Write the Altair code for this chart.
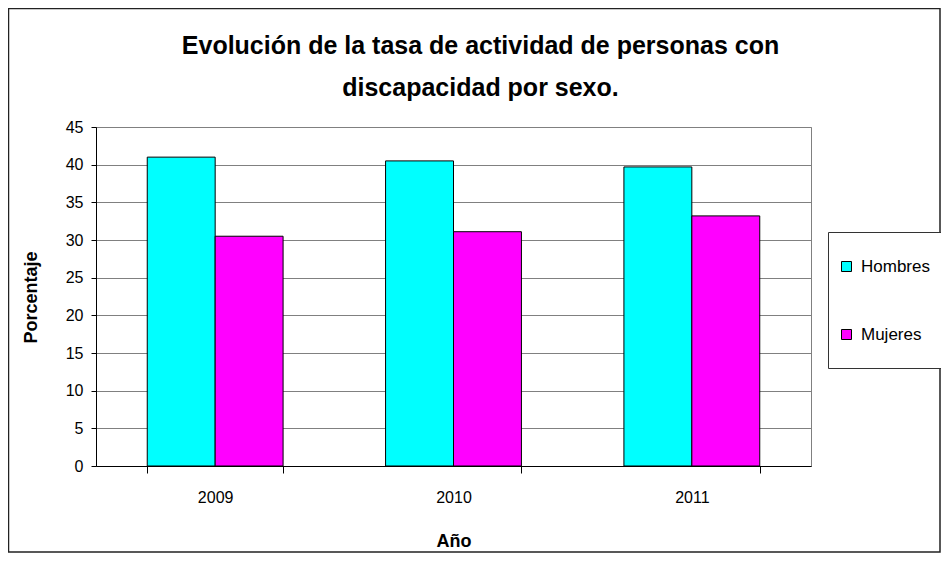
import altair as alt
import pandas as pd

years = ["2009", "2010", "2011"]
hombres = [41.0, 40.5, 39.7]
mujeres = [30.5, 31.1, 33.2]
series = ["Hombres", "Mujeres"]
colors = ["#00FFFF", "#FF00FF"]

rows = []
for i, y in enumerate(years):
    rows.append({"Año": y, "Sexo": "Hombres", "Porcentaje": hombres[i]})
    rows.append({"Año": y, "Sexo": "Mujeres", "Porcentaje": mujeres[i]})
df = pd.DataFrame(rows)

FONT = "Liberation Sans"
W, H = 715, 339

bars = alt.Chart(df).mark_bar(stroke="black", strokeWidth=1).encode(
    x=alt.X("Año:N", sort=years,
            scale=alt.Scale(paddingInner=0.43, paddingOuter=0.215),
            axis=alt.Axis(title="Año", labelAngle=0, tickBand="extent",
                          tickSize=7, labelPadding=16, titlePadding=27,
                          grid=False, domainColor="black", tickColor="black")),
    xOffset=alt.XOffset("Sexo:N", sort=series),
    y=alt.Y("Porcentaje:Q", scale=alt.Scale(domain=[0, 45], nice=False),
            axis=alt.Axis(title="Porcentaje", values=list(range(0, 50, 5)),
                          tickSize=5, labelPadding=8, grid=True,
                          gridColor="#808080", domainColor="black",
                          tickColor="black", titleX=-65, titleY=170,
                          titleAlign="center", titleBaseline="middle")),
    color=alt.Color("Sexo:N", sort=series,
                    scale=alt.Scale(domain=series, range=colors),
                    legend=alt.Legend(title=None, orient="none",
                                      legendX=742, legendY=131,
                                      symbolType="square", symbolSize=100,
                                      symbolStrokeColor="black",
                                      symbolStrokeWidth=1,
                                      labelFontSize=17, labelFont=FONT,
                                      labelColor="black",
                                      rowPadding=50, labelOffset=6)),
)

one = pd.DataFrame({"k": [0]})
legend_box = alt.Chart(one).mark_rect(fill="white", stroke="#333333", strokeWidth=1).encode(
    x=alt.value(732.5), x2=alt.value(860), y=alt.value(105.5), y2=alt.value(241.5)
)
frame = alt.Chart(one).mark_rect(fill=None, stroke="#222222", strokeWidth=1.5).encode(
    x=alt.value(-87.5), x2=alt.value(844), y=alt.value(-118.5), y2=alt.value(425)
)

chart = alt.layer(frame, legend_box, bars).properties(
    width=W, height=H,
    background="white",
    title=alt.TitleParams(
        ["Evolución de la tasa de actividad de personas con", "discapacidad por sexo."],
        font=FONT, fontSize=25, fontWeight="bold", color="black",
        anchor="middle", frame="group", dx=27, dy=93, lineHeight=42, offset=0),
    autosize=alt.AutoSizeParams(type="none"),
    padding={"left": 88, "top": 119, "right": 130, "bottom": 87},
).configure_view(stroke="#808080", strokeWidth=1).configure_axis(
    labelFont=FONT, labelFontSize=16, labelColor="black",
    titleFont=FONT, titleFontSize=18, titleFontWeight="bold", titleColor="black"
)

chart.save("out.html", embed_options={"renderer": "svg", "actions": False})
